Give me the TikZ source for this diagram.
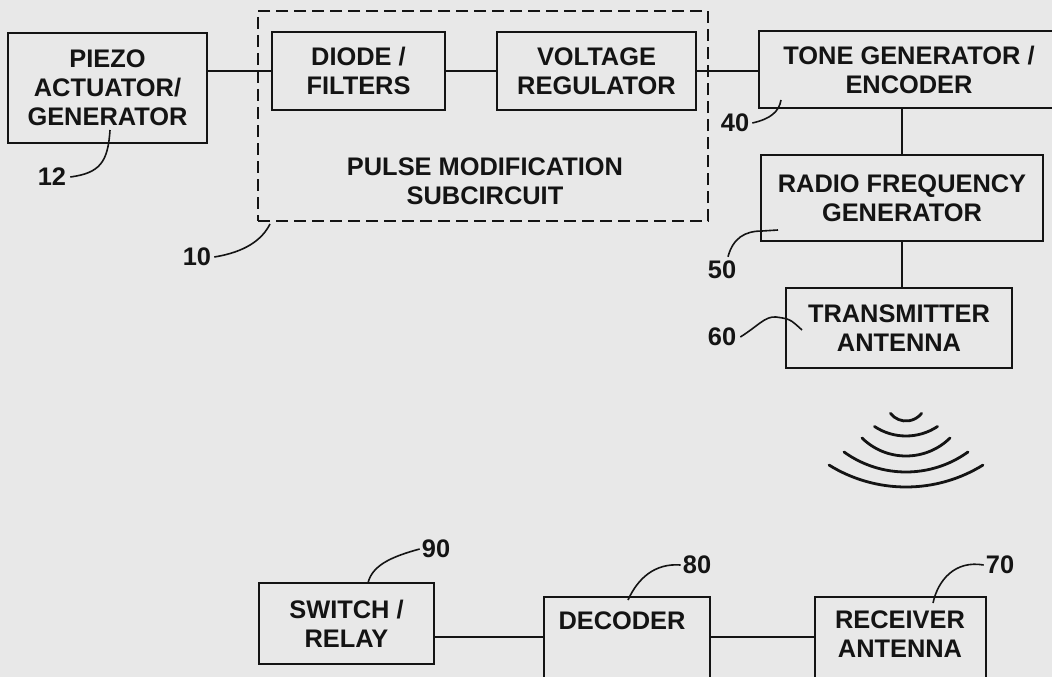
\documentclass[tikz,border=0pt]{standalone}
\usepackage{fontspec}
\setmainfont{Liberation Sans}
\usetikzlibrary{positioning,calc}
\definecolor{paper}{HTML}{E8E8E8}
\definecolor{ink}  {HTML}{141414}
\tikzset{
  every node/.style={font=\fontsize{25.4}{29}\selectfont\bfseries, text=ink},
  % --- nodes
  blk/.style  = {draw=ink, line width=2.2pt, inner sep=0pt, align=center},
  grp/.style  = {draw=ink, line width=2.2pt, dash pattern=on 12pt off 6pt, inner sep=0pt},
  txt/.style  = {align=center, inner sep=0pt},
  refno/.style= {inner sep=0pt},
  % --- edges
  wire/.style = {draw=ink, line width=2.2pt},
  lead/.style = {draw=ink, line width=1.6pt},
  wave/.style = {draw=ink, line width=2.8pt, line cap=round},
}
\begin{document}
\begin{tikzpicture}[x=1pt, y=-1pt]
  \fill[paper] (0,0) rectangle (1052,677);
  \useasboundingbox (0,0) rectangle (1052,677);
  % --- transmitter side
  \node[blk, minimum width=199pt, minimum height=110pt] (piezo) at (107.5,88) {PIEZO\\ACTUATOR/\\GENERATOR};
  \node[grp, minimum width=450pt, minimum height=210pt] (pmod) at (483,116) {};
  \node[txt] (pmodtxt) at (485,181.5) {PULSE MODIFICATION\\SUBCIRCUIT};
  \node[blk, minimum width=173pt, minimum height=78pt] (diode) at (358.5,71) {DIODE /\\FILTERS};
  \node[blk, minimum width=199pt, minimum height=78pt] (vreg) at (596.5,71) {VOLTAGE\\REGULATOR};
  \node[blk, minimum width=300pt, minimum height=77pt] (tone) at (909,69.5) {TONE GENERATOR /\\ENCODER};
  \node[blk, minimum width=282pt, minimum height=86pt] (rfgen) at (902,198) {RADIO FREQUENCY\\GENERATOR};
  \node[blk, minimum width=226pt, minimum height=80pt] (txant) at (899,328) {TRANSMITTER\\ANTENNA};
  \draw[wire] (piezo.east |- diode.west) -- (diode.west);
  \draw[wire] (diode) -- (vreg);
  \draw[wire] (vreg.east) -- (tone.west |- vreg.east);
  \draw[wire] (rfgen.north |- tone.south) -- (rfgen.north);
  \draw[wire] (rfgen.south) -- (rfgen.south |- txant.north);
  % --- receiver side
  \coordinate (rxbus) at (0,637);
  \node[blk, minimum width=175pt, minimum height=81pt] (relay) at (346.5,623.5) {SWITCH /\\RELAY};
  \node[blk, minimum width=166pt, minimum height=100pt] (dec) at (627,647) {};
  \node[txt] (dectxt) at (622,621) {DECODER};
  \node[blk, minimum width=171pt, minimum height=100pt] (rxant) at (900.5,647) {};
  \node[txt] (rxtxt) at (900,634.5) {RECEIVER\\ANTENNA};
  \draw[wire] (relay.east |- rxbus) -- (dec.west |- rxbus);
  \draw[wire] (dec.east |- rxbus) -- (rxant.west |- rxbus);
  % --- radio waves
  \foreach \yb/\r/\a in {421/19.7/52, 436/57/33.6, 456/62.8/44.5, 472/106/35.8, 487/146/31.8}
    \draw[wave] (906,\yb-\r) ++(90+\a:\r) arc[start angle=90+\a, end angle=90-\a, radius=\r];
  % --- reference numerals
  \node[refno] (n12) at (52,177) {12};
  \node[refno] (n10) at (197,257) {10};
  \node[refno] (n40) at (735,123) {40};
  \node[refno] (n50) at (722,270) {50};
  \node[refno] (n60) at (722,337) {60};
  \node[refno] (n90) at (436,549) {90};
  \node[refno] (n80) at (697,565) {80};
  \node[refno] (n70) at (1000,565) {70};
  \draw[lead] ([xshift=4pt]n12.east) .. controls (100,173) and (108,162) .. (110,130);
  \draw[lead] ([xshift=3pt]n10.east) .. controls (245,252) and (262,240) .. (270,224);
  \draw[lead] ([xshift=3pt]n40.east) .. controls (770,119) and (779,112) .. (781,100);
  \draw[lead] ([xshift=6pt,yshift=4pt]n50.north) .. controls (733,238) and (745,231) .. (762,231) -- (778,230);
  \draw[lead] ([xshift=4pt]n60.east) .. controls (758,326) and (765,316) .. (776,317)
                                      .. controls (790,319) .. (802,330);
  \draw[lead] ([xshift=-2pt]n90.west) .. controls (390,557) and (372,566) .. (368,583);
  \draw[lead] ([xshift=-2pt]n80.west) .. controls (655,563) and (638,578) .. (628,600);
  \draw[lead] ([xshift=-2pt]n70.west) .. controls (955,560) and (938,580) .. (933,603);
\end{tikzpicture}
\end{document}
